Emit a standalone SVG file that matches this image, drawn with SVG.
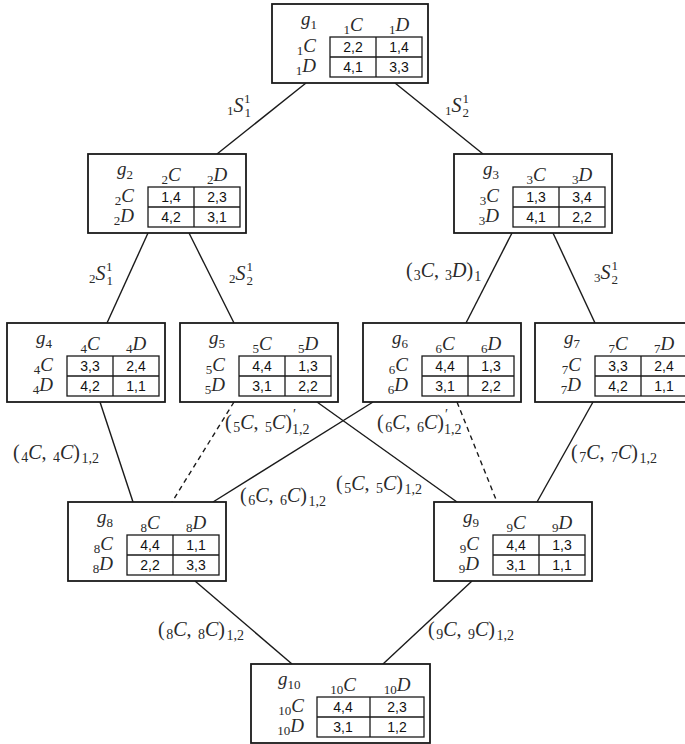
<svg xmlns="http://www.w3.org/2000/svg" width="685" height="744" viewBox="0 0 685 744">
<style>
.box{fill:#fff;stroke:#1a1a1a;stroke-width:1.8}
.tb{fill:none;stroke:#1a1a1a;stroke-width:1.3}
.e{stroke:#1a1a1a;stroke-width:1.4;fill:none}
.d{stroke-dasharray:5 4}
.m{font-family:"Liberation Serif","DejaVu Serif",serif;font-size:19px;fill:#2a2a2a}
.el{font-size:20px}
.i{font-style:italic}
.s{font-size:13px}
.s2{font-size:14px}
.p{font-size:14px}
.c{text-anchor:middle}
.r{text-anchor:end}
.v{font-family:"Liberation Sans",Arial,sans-serif;font-size:14px;fill:#111;text-anchor:middle}
</style>
<rect width="685" height="744" fill="#fff"/>
<g id="connectors">
<path class="e" d="M306 83L217 154"/>
<path class="e" d="M395 83L483 154"/>
<path class="e" d="M148 233L107 323"/>
<path class="e" d="M189 233L234 323"/>
<path class="e" d="M512 233L466 323"/>
<path class="e" d="M553 233L595 323"/>
<path class="e" d="M100 402L133 502"/>
<path class="e d" d="M234 402L172 502"/>
<path class="e" d="M317 402L457 502"/>
<path class="e" d="M373 402L213 502"/>
<path class="e d" d="M457 402L497 502"/>
<path class="e" d="M593 402L537 502"/>
<path class="e" d="M195 581L292 664"/>
<path class="e" d="M472 581L383 664"/>
<text class="m el" x="227" y="112"><tspan class="s" dy="3">1</tspan><tspan class="i" dy="-3">S</tspan><tspan class="s" dx="1" dy="5">1</tspan><tspan class="s" dx="-6.5" dy="-14">1</tspan></text>
<text class="m el" x="445" y="112"><tspan class="s" dy="3">1</tspan><tspan class="i" dy="-3">S</tspan><tspan class="s" dx="1" dy="5">2</tspan><tspan class="s" dx="-6.5" dy="-14">1</tspan></text>
<text class="m el" x="89" y="280"><tspan class="s" dy="3">2</tspan><tspan class="i" dy="-3">S</tspan><tspan class="s" dx="1" dy="5">1</tspan><tspan class="s" dx="-6.5" dy="-14">1</tspan></text>
<text class="m el" x="229" y="280"><tspan class="s" dy="3">2</tspan><tspan class="i" dy="-3">S</tspan><tspan class="s" dx="1" dy="5">2</tspan><tspan class="s" dx="-6.5" dy="-14">1</tspan></text>
<text class="m el" x="594" y="279"><tspan class="s" dy="3">3</tspan><tspan class="i" dy="-3">S</tspan><tspan class="s" dx="1" dy="5">2</tspan><tspan class="s" dx="-6.5" dy="-14">1</tspan></text>
<text class="m el" x="406" y="277">(<tspan class="s2" dx="1" dy="3">3</tspan><tspan class="i" dy="-3">C</tspan>, <tspan class="s2" dx="1" dy="3">3</tspan><tspan class="i" dy="-3">D</tspan>)<tspan class="s2" dx="1" dy="4">1</tspan></text>
<text class="m el" x="13" y="459">(<tspan class="s2" dx="1.5" dy="3">4</tspan><tspan class="i" dy="-3">C</tspan>, <tspan class="s2" dx="1.5" dy="3">4</tspan><tspan class="i" dy="-3">C</tspan>)<tspan class="s2" dx="1.5" dy="4">1,2</tspan></text>
<text class="m el" x="571" y="459">(<tspan class="s2" dx="1.5" dy="3">7</tspan><tspan class="i" dy="-3">C</tspan>, <tspan class="s2" dx="1.5" dy="3">7</tspan><tspan class="i" dy="-3">C</tspan>)<tspan class="s2" dx="1.5" dy="4">1,2</tspan></text>
<text class="m el" x="225" y="429">(<tspan class="s2" dx="1.5" dy="3">5</tspan><tspan class="i" dy="-3">C</tspan>, <tspan class="s2" dx="1.5" dy="3">5</tspan><tspan class="i" dy="-3">C</tspan>)<tspan class="p" dx="1" dy="-10">′</tspan><tspan class="s2" dx="-4" dy="15">1,2</tspan></text>
<text class="m el" x="377" y="429">(<tspan class="s2" dx="1.5" dy="3">6</tspan><tspan class="i" dy="-3">C</tspan>, <tspan class="s2" dx="1.5" dy="3">6</tspan><tspan class="i" dy="-3">C</tspan>)<tspan class="p" dx="1" dy="-10">′</tspan><tspan class="s2" dx="-4" dy="15">1,2</tspan></text>
<text class="m el" x="336" y="490">(<tspan class="s2" dx="1.5" dy="3">5</tspan><tspan class="i" dy="-3">C</tspan>, <tspan class="s2" dx="1.5" dy="3">5</tspan><tspan class="i" dy="-3">C</tspan>)<tspan class="s2" dx="1.5" dy="4">1,2</tspan></text>
<text class="m el" x="240" y="502">(<tspan class="s2" dx="1.5" dy="3">6</tspan><tspan class="i" dy="-3">C</tspan>, <tspan class="s2" dx="1.5" dy="3">6</tspan><tspan class="i" dy="-3">C</tspan>)<tspan class="s2" dx="1.5" dy="4">1,2</tspan></text>
<text class="m el" x="158" y="636">(<tspan class="s2" dx="1.5" dy="3">8</tspan><tspan class="i" dy="-3">C</tspan>, <tspan class="s2" dx="1.5" dy="3">8</tspan><tspan class="i" dy="-3">C</tspan>)<tspan class="s2" dx="1.5" dy="4">1,2</tspan></text>
<text class="m el" x="428" y="636">(<tspan class="s2" dx="1.5" dy="3">9</tspan><tspan class="i" dy="-3">C</tspan>, <tspan class="s2" dx="1.5" dy="3">9</tspan><tspan class="i" dy="-3">C</tspan>)<tspan class="s2" dx="1.5" dy="4">1,2</tspan></text>
</g>
<g id="g1">
<rect class="box" x="272" y="4" width="156" height="79"/>
<rect class="tb" x="330" y="37" width="92" height="40"/>
<path class="tb" d="M330 57H422M376 37V77"/>
<text class="m" x="301" y="25"><tspan class="i">g</tspan><tspan class="s" dy="4">1</tspan></text>
<text class="m c" x="353" y="31"><tspan class="s" dy="3">1</tspan><tspan class="i" dy="-3">C</tspan></text>
<text class="m c" x="399" y="31"><tspan class="s" dy="3">1</tspan><tspan class="i" dy="-3">D</tspan></text>
<text class="m r" x="316" y="52"><tspan class="s" dy="3">1</tspan><tspan class="i" dy="-3">C</tspan></text>
<text class="m r" x="316" y="72"><tspan class="s" dy="3">1</tspan><tspan class="i" dy="-3">D</tspan></text>
<text class="v" x="353" y="52">2,2</text><text class="v" x="399" y="52">1,4</text>
<text class="v" x="353" y="72">4,1</text><text class="v" x="399" y="72">3,3</text>
</g>
<g id="g2">
<rect class="box" x="88" y="154" width="158" height="79"/>
<rect class="tb" x="148" y="187" width="92" height="40"/>
<path class="tb" d="M148 207H240M194 187V227"/>
<text class="m" x="117" y="175"><tspan class="i">g</tspan><tspan class="s" dy="4">2</tspan></text>
<text class="m c" x="171" y="181"><tspan class="s" dy="3">2</tspan><tspan class="i" dy="-3">C</tspan></text>
<text class="m c" x="217" y="181"><tspan class="s" dy="3">2</tspan><tspan class="i" dy="-3">D</tspan></text>
<text class="m r" x="134" y="202"><tspan class="s" dy="3">2</tspan><tspan class="i" dy="-3">C</tspan></text>
<text class="m r" x="134" y="222"><tspan class="s" dy="3">2</tspan><tspan class="i" dy="-3">D</tspan></text>
<text class="v" x="171" y="202">1,4</text><text class="v" x="217" y="202">2,3</text>
<text class="v" x="171" y="222">4,2</text><text class="v" x="217" y="222">3,1</text>
</g>
<g id="g3">
<rect class="box" x="454" y="154" width="158" height="79"/>
<rect class="tb" x="513" y="187" width="92" height="40"/>
<path class="tb" d="M513 207H605M559 187V227"/>
<text class="m" x="483" y="175"><tspan class="i">g</tspan><tspan class="s" dy="4">3</tspan></text>
<text class="m c" x="536" y="181"><tspan class="s" dy="3">3</tspan><tspan class="i" dy="-3">C</tspan></text>
<text class="m c" x="582" y="181"><tspan class="s" dy="3">3</tspan><tspan class="i" dy="-3">D</tspan></text>
<text class="m r" x="499" y="202"><tspan class="s" dy="3">3</tspan><tspan class="i" dy="-3">C</tspan></text>
<text class="m r" x="499" y="222"><tspan class="s" dy="3">3</tspan><tspan class="i" dy="-3">D</tspan></text>
<text class="v" x="536" y="202">1,3</text><text class="v" x="582" y="202">3,4</text>
<text class="v" x="536" y="222">4,1</text><text class="v" x="582" y="222">2,2</text>
</g>
<g id="g4">
<rect class="box" x="7" y="323" width="158" height="79"/>
<rect class="tb" x="67" y="356" width="92" height="40"/>
<path class="tb" d="M67 376H159M113 356V396"/>
<text class="m" x="36" y="344"><tspan class="i">g</tspan><tspan class="s" dy="4">4</tspan></text>
<text class="m c" x="90" y="350"><tspan class="s" dy="3">4</tspan><tspan class="i" dy="-3">C</tspan></text>
<text class="m c" x="136" y="350"><tspan class="s" dy="3">4</tspan><tspan class="i" dy="-3">D</tspan></text>
<text class="m r" x="53" y="371"><tspan class="s" dy="3">4</tspan><tspan class="i" dy="-3">C</tspan></text>
<text class="m r" x="53" y="391"><tspan class="s" dy="3">4</tspan><tspan class="i" dy="-3">D</tspan></text>
<text class="v" x="90" y="371">3,3</text><text class="v" x="136" y="371">2,4</text>
<text class="v" x="90" y="391">4,2</text><text class="v" x="136" y="391">1,1</text>
</g>
<g id="g5">
<rect class="box" x="180" y="323" width="158" height="79"/>
<rect class="tb" x="239" y="356" width="92" height="40"/>
<path class="tb" d="M239 376H331M285 356V396"/>
<text class="m" x="209" y="344"><tspan class="i">g</tspan><tspan class="s" dy="4">5</tspan></text>
<text class="m c" x="262" y="350"><tspan class="s" dy="3">5</tspan><tspan class="i" dy="-3">C</tspan></text>
<text class="m c" x="308" y="350"><tspan class="s" dy="3">5</tspan><tspan class="i" dy="-3">D</tspan></text>
<text class="m r" x="225" y="371"><tspan class="s" dy="3">5</tspan><tspan class="i" dy="-3">C</tspan></text>
<text class="m r" x="225" y="391"><tspan class="s" dy="3">5</tspan><tspan class="i" dy="-3">D</tspan></text>
<text class="v" x="262" y="371">4,4</text><text class="v" x="308" y="371">1,3</text>
<text class="v" x="262" y="391">3,1</text><text class="v" x="308" y="391">2,2</text>
</g>
<g id="g6">
<rect class="box" x="363" y="323" width="158" height="79"/>
<rect class="tb" x="422" y="356" width="92" height="40"/>
<path class="tb" d="M422 376H514M468 356V396"/>
<text class="m" x="392" y="344"><tspan class="i">g</tspan><tspan class="s" dy="4">6</tspan></text>
<text class="m c" x="445" y="350"><tspan class="s" dy="3">6</tspan><tspan class="i" dy="-3">C</tspan></text>
<text class="m c" x="491" y="350"><tspan class="s" dy="3">6</tspan><tspan class="i" dy="-3">D</tspan></text>
<text class="m r" x="408" y="371"><tspan class="s" dy="3">6</tspan><tspan class="i" dy="-3">C</tspan></text>
<text class="m r" x="408" y="391"><tspan class="s" dy="3">6</tspan><tspan class="i" dy="-3">D</tspan></text>
<text class="v" x="445" y="371">4,4</text><text class="v" x="491" y="371">1,3</text>
<text class="v" x="445" y="391">3,1</text><text class="v" x="491" y="391">2,2</text>
</g>
<g id="g7">
<rect class="box" x="535" y="323" width="158" height="79"/>
<rect class="tb" x="595" y="356" width="92" height="40"/>
<path class="tb" d="M595 376H687M641 356V396"/>
<text class="m" x="564" y="344"><tspan class="i">g</tspan><tspan class="s" dy="4">7</tspan></text>
<text class="m c" x="618" y="350"><tspan class="s" dy="3">7</tspan><tspan class="i" dy="-3">C</tspan></text>
<text class="m c" x="664" y="350"><tspan class="s" dy="3">7</tspan><tspan class="i" dy="-3">D</tspan></text>
<text class="m r" x="581" y="371"><tspan class="s" dy="3">7</tspan><tspan class="i" dy="-3">C</tspan></text>
<text class="m r" x="581" y="391"><tspan class="s" dy="3">7</tspan><tspan class="i" dy="-3">D</tspan></text>
<text class="v" x="618" y="371">3,3</text><text class="v" x="664" y="371">2,4</text>
<text class="v" x="618" y="391">4,2</text><text class="v" x="664" y="391">1,1</text>
</g>
<g id="g8">
<rect class="box" x="68" y="502" width="158" height="79"/>
<rect class="tb" x="127" y="535" width="92" height="40"/>
<path class="tb" d="M127 555H219M173 535V575"/>
<text class="m" x="97" y="523"><tspan class="i">g</tspan><tspan class="s" dy="4">8</tspan></text>
<text class="m c" x="150" y="529"><tspan class="s" dy="3">8</tspan><tspan class="i" dy="-3">C</tspan></text>
<text class="m c" x="196" y="529"><tspan class="s" dy="3">8</tspan><tspan class="i" dy="-3">D</tspan></text>
<text class="m r" x="113" y="550"><tspan class="s" dy="3">8</tspan><tspan class="i" dy="-3">C</tspan></text>
<text class="m r" x="113" y="570"><tspan class="s" dy="3">8</tspan><tspan class="i" dy="-3">D</tspan></text>
<text class="v" x="150" y="550">4,4</text><text class="v" x="196" y="550">1,1</text>
<text class="v" x="150" y="570">2,2</text><text class="v" x="196" y="570">3,3</text>
</g>
<g id="g9">
<rect class="box" x="434" y="502" width="158" height="79"/>
<rect class="tb" x="493" y="535" width="92" height="40"/>
<path class="tb" d="M493 555H585M539 535V575"/>
<text class="m" x="463" y="523"><tspan class="i">g</tspan><tspan class="s" dy="4">9</tspan></text>
<text class="m c" x="516" y="529"><tspan class="s" dy="3">9</tspan><tspan class="i" dy="-3">C</tspan></text>
<text class="m c" x="562" y="529"><tspan class="s" dy="3">9</tspan><tspan class="i" dy="-3">D</tspan></text>
<text class="m r" x="479" y="550"><tspan class="s" dy="3">9</tspan><tspan class="i" dy="-3">C</tspan></text>
<text class="m r" x="479" y="570"><tspan class="s" dy="3">9</tspan><tspan class="i" dy="-3">D</tspan></text>
<text class="v" x="516" y="550">4,4</text><text class="v" x="562" y="550">1,3</text>
<text class="v" x="516" y="570">3,1</text><text class="v" x="562" y="570">1,1</text>
</g>
<g id="g10">
<rect class="box" x="251" y="664" width="179" height="79"/>
<rect class="tb" x="317" y="697" width="107" height="40"/>
<path class="tb" d="M317 717H424M370 697V737"/>
<text class="m" x="278" y="685"><tspan class="i">g</tspan><tspan class="s" dy="4">10</tspan></text>
<text class="m c" x="343" y="691"><tspan class="s" dy="3">10</tspan><tspan class="i" dy="-3">C</tspan></text>
<text class="m c" x="397" y="691"><tspan class="s" dy="3">10</tspan><tspan class="i" dy="-3">D</tspan></text>
<text class="m r" x="304" y="712"><tspan class="s" dy="3">10</tspan><tspan class="i" dy="-3">C</tspan></text>
<text class="m r" x="304" y="732"><tspan class="s" dy="3">10</tspan><tspan class="i" dy="-3">D</tspan></text>
<text class="v" x="343" y="712">4,4</text><text class="v" x="397" y="712">2,3</text>
<text class="v" x="343" y="732">3,1</text><text class="v" x="397" y="732">1,2</text>
</g>
</svg>
